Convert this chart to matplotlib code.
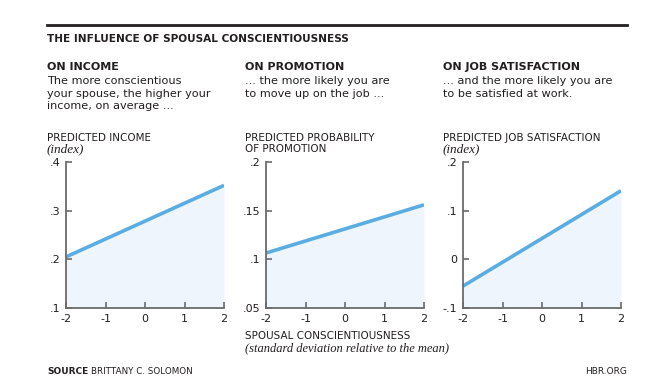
import numpy as np
import matplotlib
matplotlib.use("Agg")
import matplotlib.pyplot as plt
from matplotlib.lines import Line2D

# data
x_vals = [-2, 2]
income = [0.205, 0.352]
promotion = [0.1065, 0.156]
satisfaction = [-0.055, 0.141]

x_ticks = [-2, -1, 0, 1, 2]
x_ticklabels = ["-2", "-1", "0", "1", "2"]

income_ticks = [0.1, 0.2, 0.3, 0.4]
income_labels = [".1", ".2", ".3", ".4"]
promo_ticks = [0.05, 0.1, 0.15, 0.2]
promo_labels = [".05", ".1", ".15", ".2"]
sat_ticks = [-0.1, 0, 0.1, 0.2]
sat_labels = ["-.1", "0", ".1", ".2"]

headings = ["ON INCOME", "ON PROMOTION", "ON JOB SATISFACTION"]
subtexts = ["The more conscientious\nyour spouse, the higher your\nincome, on average ...",
            "... the more likely you are\nto move up on the job ...",
            "... and the more likely you are\nto be satisfied at work."]
ylabels = ["PREDICTED INCOME", "PREDICTED PROBABILITY\nOF PROMOTION", "PREDICTED JOB SATISFACTION"]
ylabel_italic = ["(index)", None, "(index)"]

W, H = 657, 392
LINE = "#5aade2"
FILL = "#eef5fc"
SPINE = "#6b6b6b"
TXT = "#231f20"


def fx(px):
    return px / W


def fy(py):
    return 1 - py / H


fig = plt.figure(figsize=(W / 100, H / 100), dpi=100)
fig.patch.set_facecolor("white")

# top rule and title
fig.add_artist(Line2D([fx(47), fx(627)], [fy(25), fy(25)], color=TXT, lw=2))
fig.text(fx(47), fy(39), "THE INFLUENCE OF SPOUSAL CONSCIENTIOUSNESS", fontsize=7.6,
         fontweight="bold", color=TXT, va="center", ha="left")

panels = [
    (income, income_ticks, income_labels, (0.1, 0.4)),
    (promotion, promo_ticks, promo_labels, (0.05, 0.2)),
    (satisfaction, sat_ticks, sat_labels, (-0.1, 0.2)),
]
ax_left = [66, 266, 463]
text_left = [47, 245, 443]

for i, (vals, yt, yl, ylim) in enumerate(panels):
    ax = fig.add_axes([fx(ax_left[i]), fy(308), fx(158), 146 / H])
    ax.fill_between(x_vals, vals, ylim[0], color=FILL, lw=0)
    ax.plot(x_vals, vals, color=LINE, lw=2.6, solid_capstyle="butt")
    ax.set_xlim(-2, 2)
    ax.set_ylim(*ylim)
    ax.set_xticks(x_ticks)
    ax.set_xticklabels(x_ticklabels)
    ax.set_yticks(yt)
    ax.set_yticklabels(yl)
    for s in ["top", "right"]:
        ax.spines[s].set_visible(False)
    for s in ["left", "bottom"]:
        ax.spines[s].set_color(SPINE)
        ax.spines[s].set_linewidth(1.3)
    ax.tick_params(direction="in", length=4, width=1.2, color=SPINE,
                   labelsize=8, labelcolor=TXT, pad=4)
    ax.set_facecolor("none")

    tx = fx(text_left[i])
    fig.text(tx, fy(67.5), headings[i], fontsize=8, fontweight="bold",
             color=TXT, va="center", ha="left")
    fig.text(tx, fy(76), subtexts[i], fontsize=8.1, color=TXT, va="top",
             ha="left", linespacing=1.32)
    fig.text(tx, fy(133), ylabels[i], fontsize=7.5, color=TXT, va="top",
             ha="left", linespacing=1.1)
    if ylabel_italic[i]:
        fig.text(tx, fy(143), ylabel_italic[i], fontsize=9.5, color=TXT, va="top",
                 ha="left", family="Liberation Serif", style="italic")

# x axis caption under the middle panel
fig.text(fx(245), fy(336), "SPOUSAL CONSCIENTIOUSNESS", fontsize=7.5, color=TXT,
         va="center", ha="left")
fig.text(fx(245), fy(348.5), "(standard deviation relative to the mean)", fontsize=9,
         color=TXT, va="center", ha="left", family="Liberation Serif", style="italic")

# footer
src = fig.text(fx(47), fy(371), "SOURCE", fontsize=6.5, fontweight="bold", color=TXT,
               va="center", ha="left")
r = fig.canvas.get_renderer()
bb = src.get_window_extent(renderer=r)
fig.text(bb.x1 / W + fx(3), fy(371), "BRITTANY C. SOLOMON", fontsize=6.3, color=TXT,
         va="center", ha="left")
fig.text(fx(627), fy(371), "HBR.ORG", fontsize=6.5, color=TXT, va="center", ha="right")

fig.savefig("out.png", dpi=100, facecolor="white")
